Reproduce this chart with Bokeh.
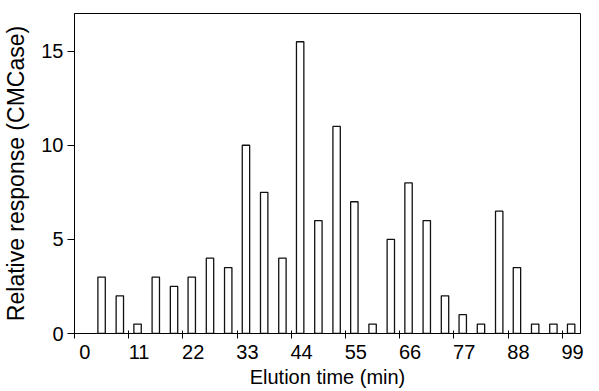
from bokeh.plotting import figure
from bokeh.models import Range1d, LinearAxis, FixedTicker
from bokeh.embed import file_html
from bokeh.resources import INLINE

# Elution time (min) of each fraction (bar centres) and relative CMCase response
times = [5.5, 9.2, 12.8, 16.5, 20.2, 23.8, 27.5, 31.2, 34.8, 38.5, 42.2, 45.8, 49.5,
         53.2, 56.8, 60.5, 64.2, 67.8, 71.5, 75.2, 78.8, 82.5, 86.2, 89.8, 93.5, 97.2, 100.8]
values = [3, 2, 0.5, 3, 2.5, 3, 4, 3.5, 10, 7.5, 4, 15.5, 6, 11, 7, 0.5, 5, 8, 6, 2, 1,
          0.5, 6.5, 3.5, 0.5, 0.5, 0.5]
x_ticks = [0, 11, 22, 33, 44, 55, 66, 77, 88, 99]
y_ticks = [0, 5, 10, 15]

FONT = "Liberation Sans"
X_MAX = 102.7
Y_MAX = 17.0
LABEL_SHIFT = 2.1

p = figure(width=599, height=391, x_range=Range1d(0, X_MAX), y_range=Range1d(0, Y_MAX),
           output_backend="svg", toolbar_location=None, x_axis_location=None,
           min_border_left=71, min_border_right=19, min_border_top=13, min_border_bottom=58)
p.xgrid.visible = False
p.ygrid.visible = False
p.outline_line_color = "black"
p.outline_line_width = 1
p.background_fill_color = "white"
p.border_fill_color = "white"

p.vbar(x=times, top=values, bottom=0, width=1.5, fill_color="white",
       line_color="#111111", line_width=1.3)

# y axis
ya = p.yaxis[0]
ya.ticker = FixedTicker(ticks=y_ticks)
ya.minor_tick_line_color = None
ya.major_tick_in = 0
ya.major_tick_out = 7
ya.major_label_standoff = 4
ya.major_label_text_font = FONT
ya.major_label_text_font_size = "20px"
ya.major_label_text_color = "black"
ya.axis_line_color = "black"
ya.major_tick_line_color = "black"
ya.axis_label = "Relative response (CMCase)"
ya.axis_label_text_font = FONT
ya.axis_label_text_font_size = "23px"
ya.axis_label_text_font_style = "normal"
ya.axis_label_text_color = "black"
ya.axis_label_standoff = 9

# x tick marks
p.extra_x_ranges = {"lab": Range1d(-LABEL_SHIFT, X_MAX - LABEL_SHIFT)}
tick_axis = LinearAxis(ticker=FixedTicker(ticks=x_ticks), major_tick_in=3, major_tick_out=5,
                       major_label_overrides={t: "" for t in x_ticks},
                       major_label_text_font_size="0px", major_label_standoff=0,
                       minor_tick_line_color=None, axis_line_color="black",
                       major_tick_line_color="black")
p.add_layout(tick_axis, "below")

lab_axis = LinearAxis(x_range_name="lab", ticker=FixedTicker(ticks=x_ticks),
                      major_tick_in=0, major_tick_out=0, axis_line_color=None,
                      minor_tick_line_color=None, major_label_standoff=6,
                      major_label_text_font=FONT, major_label_text_font_size="20px",
                      major_label_text_color="black",
                      axis_label="Elution time (min)", axis_label_text_font=FONT,
                      axis_label_text_font_size="20px", axis_label_text_font_style="normal",
                      axis_label_text_color="black", axis_label_standoff=4)
p.add_layout(lab_axis, "below")

open("out.html", "w").write(file_html(p, INLINE))
